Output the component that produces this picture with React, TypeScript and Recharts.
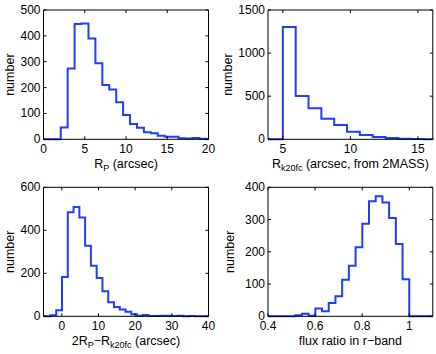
import React from 'react';
import { LineChart, Line, XAxis, YAxis } from 'recharts';

// ---------- Data ----------
// Panel 1: R_P (arcsec)
const rpEdges = [2.09, 2.93, 3.77, 4.61, 5.45, 6.29, 7.13, 7.97, 8.81, 9.65, 10.49, 11.33, 12.17, 13.01, 13.85, 14.69, 15.53, 16.37, 17.21, 18.05, 18.89, 19.73];
const rpCounts = [46, 274, 446, 448, 390, 294, 210, 193, 143, 94, 59, 45, 27, 23, 14, 10, 10, 4, 3, 5, 2];
const rpXTicks = [0, 5, 10, 15, 20];
const rpYTicks = [0, 100, 200, 300, 400, 500];

// Panel 2: R_k20fc (arcsec, from 2MASS)
const rkEdges = [5.0, 5.95, 6.9, 7.85, 8.8, 9.75, 10.7, 11.65, 12.6, 13.55, 14.5, 15.45, 16.1];
const rkCounts = [1303, 502, 360, 237, 166, 88, 50, 28, 15, 5, 3, 2];
const rkXTicks = [5, 10, 15];
const rkYTicks = [0, 500, 1000, 1500];

// Panel 3: 2R_P - R_k20fc (arcsec)
const dEdges = [-3.1, -1.525, 0.05, 1.625, 3.2, 4.775, 6.35, 7.925, 9.5, 11.075, 12.65, 14.225, 15.8, 17.375, 18.95, 20.525, 22.1, 23.675, 25.25, 26.825, 28.4, 29.975, 31.55, 33.125, 34.7, 36.275];
const dCounts = [5, 28, 183, 484, 508, 459, 328, 235, 178, 116, 65, 43, 32, 21, 10, 3, 6, 1, 1, 3, 2, 1, 3, 0, 1];
const dXTicks = [0, 10, 20, 30, 40];
const dYTicks = [0, 200, 400, 600];

// Panel 4: flux ratio in r-band
const fEdges = [0.5155, 0.544, 0.5725, 0.601, 0.6295, 0.658, 0.6865, 0.715, 0.7435, 0.772, 0.8005, 0.829, 0.8575, 0.886, 0.9145, 0.943, 0.9715, 1.0];
const fCounts = [3, 8, 2, 24, 16, 41, 62, 113, 157, 214, 287, 357, 372, 353, 305, 224, 115];
const fXTicks = [0.4, 0.6, 0.8, 1];
const fYTicks = [0, 100, 200, 300, 400];

// ---------- Helpers ----------
type Pt = { x: number; y: number };
function stairs(edges: number[], counts: number[], lo: number, hi: number): Pt[] {
  const pts: Pt[] = [{ x: lo, y: 0 }];
  counts.forEach((c, i) => pts.push({ x: edges[i], y: c }));
  const last = edges[counts.length];
  pts.push({ x: last, y: 0 });
  if (last < hi) pts.push({ x: hi, y: 0 });
  return pts;
}

const FONT = "'Liberation Sans', Arial, Helvetica, sans-serif";
const TL = 3;
const LINE_COLOR = '#1f3cff';

const BottomTick = (props: any) => {
  const { x, y, payload } = props;
  return (
    <g>
      <line x1={x} y1={y} x2={x} y2={y - TL} stroke="#000" strokeWidth={1} />
      <text x={x} y={y + 13.7} textAnchor="middle" fontSize={12} fontFamily={FONT} fill="#000">
        {String(payload.value)}
      </text>
    </g>
  );
};
const LeftTick = (props: any) => {
  const { x, y, payload } = props;
  return (
    <g>
      <line x1={x} y1={y} x2={x + TL} y2={y} stroke="#000" strokeWidth={1} />
      <text x={x - 3} y={y + 4} textAnchor="end" fontSize={12} fontFamily={FONT} fill="#000">
        {String(payload.value)}
      </text>
    </g>
  );
};
const TopTick = (props: any) => {
  const { x, y } = props;
  return <line x1={x} y1={y} x2={x} y2={y + TL} stroke="#000" strokeWidth={1} />;
};
const RightTick = (props: any) => {
  const { x, y } = props;
  return <line x1={x} y1={y} x2={x - TL} y2={y} stroke="#000" strokeWidth={1} />;
};

type Margin = { top: number; right: number; bottom: number; left: number };
type PanelProps = {
  left: number;
  top: number;
  plot: Margin; // distances of plot box from the chart edges
  data: Pt[];
  xDomain: [number, number];
  xTicks: number[];
  yDomain: [number, number];
  yTicks: number[];
  xLabel: React.ReactNode;
  yLabelOffset: number;
};

function Panel(p: PanelProps) {
  const W = 218;
  const H = 177;
  const A = 1; // reserved axis thickness
  const margin = {
    top: p.plot.top - A,
    right: p.plot.right - A,
    bottom: p.plot.bottom - A,
    left: p.plot.left - A,
  };
  const plotLeft = p.plot.left;
  const plotRight = W - p.plot.right;
  const plotTop = p.plot.top;
  const plotBottom = H - p.plot.bottom;
  const yx = plotLeft - p.yLabelOffset;
  const yy = (plotTop + plotBottom) / 2;
  return (
    <div style={{ position: 'absolute', left: p.left, top: p.top, width: W, height: H }}>
      <LineChart width={W} height={H} data={p.data} margin={margin}>
        <XAxis
          xAxisId="b"
          dataKey="x"
          type="number"
          domain={p.xDomain}
          ticks={p.xTicks}
          height={A}
          tickSize={0}
          tickMargin={0}
          tick={<BottomTick />}
          tickLine={false}
          axisLine={{ stroke: '#000', strokeWidth: 1 }}
          interval={0}
        />
        <XAxis
          xAxisId="t"
          orientation="top"
          dataKey="x"
          type="number"
          domain={p.xDomain}
          allowDataOverflow
          ticks={p.xTicks}
          height={A}
          tickSize={0}
          tickMargin={0}
          tick={<TopTick />}
          tickLine={false}
          axisLine={{ stroke: '#000', strokeWidth: 1 }}
          interval={0}
        />
        <YAxis
          yAxisId="l"
          type="number"
          domain={p.yDomain}
          ticks={p.yTicks}
          width={A}
          tickSize={0}
          tickMargin={0}
          tick={<LeftTick />}
          tickLine={false}
          axisLine={{ stroke: '#000', strokeWidth: 1 }}
          interval={0}
        />
        <YAxis
          yAxisId="r"
          orientation="right"
          type="number"
          domain={p.yDomain}
          allowDataOverflow
          ticks={p.yTicks}
          width={A}
          tickSize={0}
          tickMargin={0}
          tick={<RightTick />}
          tickLine={false}
          axisLine={{ stroke: '#000', strokeWidth: 1 }}
          interval={0}
        />
        <Line
          xAxisId="b"
          yAxisId="l"
          dataKey="y"
          type="stepAfter"
          stroke={LINE_COLOR}
          strokeWidth={2}
          dot={false}
          activeDot={false}
          isAnimationActive={false}
        />
      </LineChart>
      <svg
        width={W}
        height={H}
        style={{ position: 'absolute', left: 0, top: 0, pointerEvents: 'none' }}
      >
        <text
          x={(plotLeft + plotRight) / 2}
          y={plotBottom + 28.5}
          textAnchor="middle"
          fontSize={12.5}
          fontFamily={FONT}
          fill="#000"
        >
          {p.xLabel}
        </text>
        <text
          x={yx}
          y={yy}
          transform={`rotate(-90, ${yx}, ${yy})`}
          textAnchor="middle"
          fontSize={12.5}
          fontFamily={FONT}
          fill="#000"
        >
          number
        </text>
      </svg>
    </div>
  );
}

const sub = (t: string) => (
  <tspan fontSize={9} dy={3}>
    {t}
  </tspan>
);

export default function App() {
  const pL = { top: 10, right: 9.5, bottom: 37.7, left: 43.5 };
  const pR = { top: 10, right: 3.2, bottom: 37.7, left: 50 };
  const pL2 = { top: 10.3, right: 9.5, bottom: 37.7, left: 43.5 };
  const pR2 = { top: 10.3, right: 3.2, bottom: 37.7, left: 50 };
  return (
    <div style={{ position: 'absolute', left: 0, top: 0, width: 436, height: 354, background: '#fff' }}>
      <Panel
        left={0}
        top={0}
        plot={pL}
        data={stairs(rpEdges, rpCounts, 0, 20)}
        xDomain={[0, 20]}
        xTicks={rpXTicks}
        yDomain={[0, 500]}
        yTicks={rpYTicks}
        yLabelOffset={29.5}
        xLabel={
          <>
            <tspan>R</tspan>
            {sub('P')}
            <tspan dy={-3}> (arcsec)</tspan>
          </>
        }
      />
      <Panel
        left={218}
        top={0}
        plot={pR}
        data={stairs(rkEdges, rkCounts, 3.9, 16.1)}
        xDomain={[3.9, 16.1]}
        xTicks={rkXTicks}
        yDomain={[0, 1500]}
        yTicks={rkYTicks}
        yLabelOffset={36}
        xLabel={
          <>
            <tspan>R</tspan>
            {sub('k20fc')}
            <tspan dy={-3}> (arcsec, from 2MASS)</tspan>
          </>
        }
      />
      <Panel
        left={0}
        top={177}
        plot={pL2}
        data={stairs(dEdges, dCounts, -5, 40)}
        xDomain={[-5, 40]}
        xTicks={dXTicks}
        yDomain={[0, 600]}
        yTicks={dYTicks}
        yLabelOffset={29.5}
        xLabel={
          <>
            <tspan>2R</tspan>
            {sub('P')}
            <tspan dy={-3}>−R</tspan>
            {sub('k20fc')}
            <tspan dy={-3}> (arcsec)</tspan>
          </>
        }
      />
      <Panel
        left={218}
        top={177}
        plot={pR2}
        data={stairs(fEdges, fCounts, 0.4, 1.1)}
        xDomain={[0.4, 1.1]}
        xTicks={fXTicks}
        yDomain={[0, 400]}
        yTicks={fYTicks}
        yLabelOffset={33.5}
        xLabel={<tspan>flux ratio in r−band</tspan>}
      />
    </div>
  );
}
